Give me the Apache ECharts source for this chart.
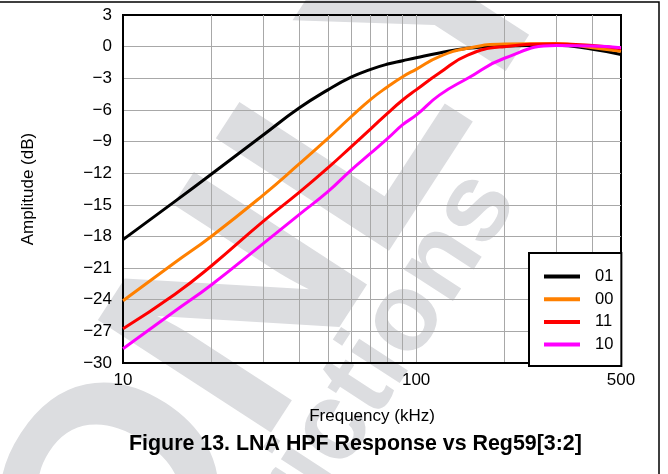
<!DOCTYPE html>
<html>
<head>
<meta charset="utf-8">
<title>LNA HPF Response vs Reg59[3:2]</title>
<script src="https://cdn.jsdelivr.net/npm/echarts@6/dist/echarts.min.js"></script>
<style>
  html, body { margin: 0; padding: 0; background: #fff; }
  #chart { width: 668px; height: 474px; }
</style>
</head>
<body>
<div id="chart"></div>
<script>
// frequency points (kHz)
const freqs = [10, 15, 20, 30, 40, 50, 60, 70, 80, 90, 100, 120, 150, 200, 300, 400, 500];
// amplitude (dB) per Reg59[3:2] setting
const reg01 = [-18.3, -14.7, -12.1, -8.4, -5.8, -4.1, -2.9, -2.15, -1.65, -1.33, -1.05, -0.6, -0.15, 0.05, 0.12, -0.25, -0.75];
const reg00 = [-24.1, -20.5, -18.0, -14.1, -11.1, -8.7, -6.65, -5.0, -3.8, -2.85, -2.15, -0.95, -0.15, 0.25, 0.3, -0.1, -0.45];
const reg11 = [-26.75, -23.5, -20.8, -16.6, -13.8, -11.5, -9.5, -7.8, -6.3, -5.06, -4.1, -2.5, -0.8, 0.0, 0.25, 0.1, -0.2];
const reg10 = [-28.65, -25.1, -22.6, -18.7, -15.9, -13.75, -11.7, -10.1, -8.7, -7.4, -6.5, -4.6, -3.0, -1.1, 0.1, 0.05, -0.1];

// axis ticks
const xGridValues = [10, 20, 30, 40, 50, 60, 70, 80, 90, 100, 200, 300, 400, 500];
const xLabelValues = [10, 100, 500];

const font = 'Liberation Sans, Arial, sans-serif';
const pair = (ys) => freqs.map((f, i) => [f, ys[i]]);
const minus = (v) => (v < 0 ? '\u2212' + Math.abs(v) : String(v));

const chart = echarts.init(document.getElementById('chart'), null, { renderer: 'canvas' });

const mkSeries = (name, ys, color) => ({
  name: name,
  type: 'line',
  data: pair(ys),
  smooth: 0.5,
  showSymbol: false,
  symbol: 'none',
  lineStyle: { color: color, width: 3 },
  itemStyle: { color: color },
  z: 3
});

const option = {
  animation: false,
  backgroundColor: '#fff',
  title: {
    text: 'Figure 13. LNA HPF Response vs Reg59[3:2]',
    left: 129,
    top: 434,
    padding: 0,
    textStyle: { fontFamily: font, fontSize: 21.4, fontWeight: 'bold', color: '#000' }
  },
  grid: {
    left: 123, right: 47, top: 15, bottom: 111,
    show: true, borderColor: '#000', borderWidth: 2,
    outerBoundsMode: 'none', containLabel: false
  },
  legend: {
    orient: 'vertical',
    left: 529, top: 253,
    padding: [15, 8, 13, 15],
    itemGap: 5.7,
    itemWidth: 36, itemHeight: 4,
    icon: 'rect',
    backgroundColor: '#fff',
    borderColor: '#000', borderWidth: 2,
    textStyle: { fontFamily: font, fontSize: 16.5, color: '#000', padding: [0, 0, 0, 10] },
    data: ['01', '00', '11', '10']
  },
  xAxis: {
    type: 'log',
    logBase: 10,
    min: 10, max: 500,
    name: 'Frequency (kHz)',
    nameLocation: 'middle',
    nameGap: 45,
    nameTextStyle: { fontFamily: font, fontSize: 17, color: '#000' },
    axisLine: { show: true, onZero: false, lineStyle: { color: '#000', width: 2 } },
    axisTick: { show: false, customValues: xGridValues },
    axisLabel: {
      customValues: xLabelValues,
      fontFamily: font, fontSize: 17, color: '#000', margin: 9,
      formatter: (v) => String(Math.round(v))
    },
    splitLine: { show: true, showMinLine: false, showMaxLine: false, lineStyle: { color: '#a8a8a8', width: 1 } }
  },
  yAxis: {
    type: 'value',
    min: -30, max: 3, interval: 3,
    name: 'Amplitude (dB)',
    nameLocation: 'middle',
    nameGap: 86,
    nameRotate: 90,
    nameTextStyle: { fontFamily: font, fontSize: 17, color: '#000' },
    axisLine: { show: true, onZero: false, lineStyle: { color: '#000', width: 2 } },
    axisTick: { show: false },
    axisLabel: { fontFamily: font, fontSize: 17, color: '#000', margin: 11, formatter: minus },
    splitLine: { show: true, showMinLine: false, showMaxLine: false, lineStyle: { color: '#a8a8a8', width: 1 } }
  },
  graphic: [
    // watermark
    {
      type: 'text', x: 283, y: 262, rotation: 57 * Math.PI / 180, z: -10, silent: true,
      style: { text: 'ONLY', font: 'bold 300px ' + font, fill: '#dcdde0', align: 'center', verticalAlign: 'middle' }
    },
    {
      type: 'text', x: 320, y: 450, rotation: 57 * Math.PI / 180, z: -10, silent: true,
      style: { text: 'Restrictions', font: 'bold 110px ' + font, fill: '#dcdde0', align: 'center', verticalAlign: 'middle' }
    },
    // page frame
    {
      type: 'polyline', z: 10, silent: true,
      shape: { points: [[0, 2], [659, 2], [659, 474]] },
      style: { stroke: '#000', lineWidth: 1.5, fill: null }
    }
  ],
  series: [
    mkSeries('01', reg01, '#000000'),
    mkSeries('00', reg00, '#ff8000'),
    mkSeries('11', reg11, '#ff0000'),
    mkSeries('10', reg10, '#ff00ff')
  ]
};

chart.setOption(option);
</script>
</body>
</html>
